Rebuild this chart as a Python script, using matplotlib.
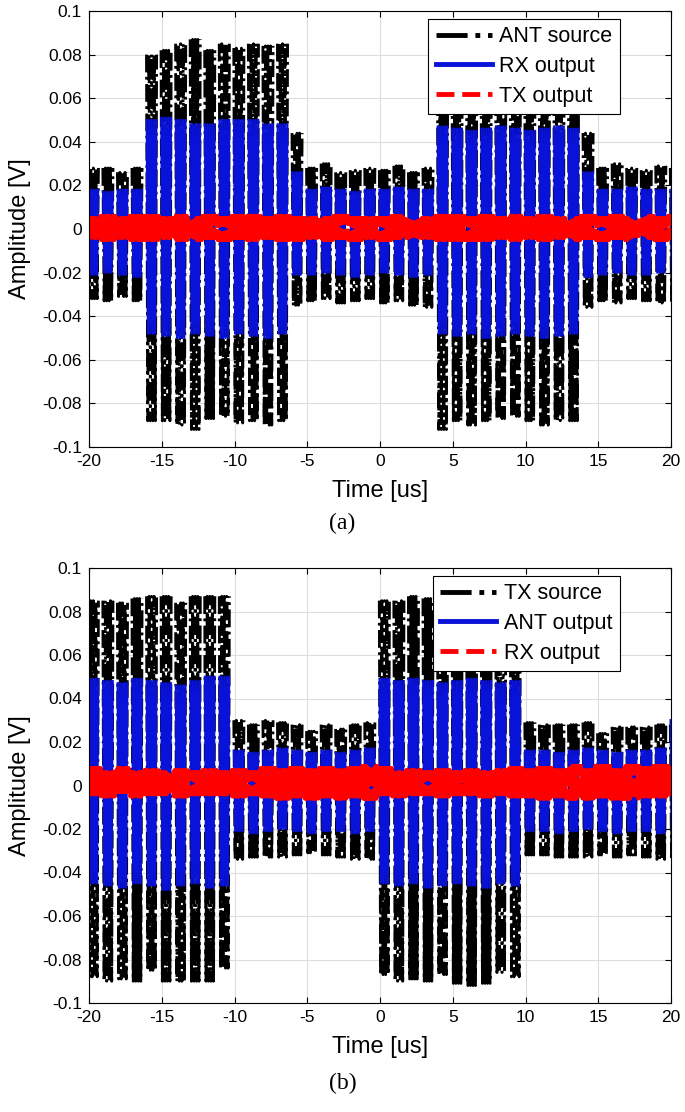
import numpy as np
import matplotlib
matplotlib.use("Agg")
import matplotlib.pyplot as plt
from matplotlib.ticker import FuncFormatter

plt.rcParams['font.family'] = ['Liberation Sans', 'DejaVu Sans']
plt.rcParams['axes.unicode_minus'] = False

# burst centres [us], one value per envelope peak of the carrier
bar_t = [-19.7, -18.7, -17.7, -16.7, -15.7, -14.7, -13.7, -12.7, -11.7, -10.7,
         -9.7, -8.7, -7.7, -6.7, -5.7, -4.7, -3.7, -2.7, -1.7, -0.7,
         0.3, 1.3, 2.3, 3.3, 4.3, 5.3, 6.3, 7.3, 8.3, 9.3,
         10.3, 11.3, 12.3, 13.3, 14.3, 15.3, 16.3, 17.3, 18.3, 19.3, 20.3]

# ---- (a) peak values read per burst ----
a_ant_hi = [0.028, 0.028, 0.026, 0.028,
            0.080, 0.082, 0.085, 0.087, 0.082, 0.085, 0.083, 0.085, 0.084, 0.085,
            0.044,
            0.028, 0.030, 0.026, 0.027, 0.028, 0.027, 0.029, 0.026, 0.028,
            0.060, 0.062, 0.061, 0.062, 0.060, 0.061, 0.062, 0.061, 0.060, 0.061,
            0.044,
            0.028, 0.030, 0.028, 0.027, 0.029, 0.028]
a_ant_lo = [-0.032, -0.033, -0.031, -0.033,
            -0.088, -0.088, -0.090, -0.092, -0.087, -0.086, -0.089, -0.088, -0.090, -0.088,
            -0.035,
            -0.033, -0.032, -0.034, -0.033, -0.032, -0.034, -0.033, -0.035, -0.036,
            -0.092, -0.088, -0.090, -0.088, -0.087, -0.086, -0.088, -0.090, -0.088, -0.088,
            -0.036,
            -0.033, -0.034, -0.032, -0.033, -0.034, -0.033]
a_rx_hi = [0.018, 0.017, 0.018, 0.018,
           0.050, 0.051, 0.050, 0.048, 0.048, 0.050, 0.050, 0.050, 0.048, 0.048,
           0.026,
           0.018, 0.019, 0.018, 0.017, 0.018, 0.018, 0.019, 0.018, 0.018,
           0.047, 0.046, 0.045, 0.046, 0.047, 0.046, 0.045, 0.046, 0.047, 0.046,
           0.026,
           0.018, 0.018, 0.019, 0.018, 0.018, 0.018]
a_rx_lo = [-0.021, -0.020, -0.021, -0.022,
           -0.048, -0.049, -0.050, -0.048, -0.049, -0.050, -0.048, -0.049, -0.050, -0.048,
           -0.021,
           -0.021, -0.020, -0.021, -0.022, -0.021, -0.020, -0.021, -0.022, -0.021,
           -0.048, -0.049, -0.048, -0.050, -0.049, -0.048, -0.049, -0.050, -0.049, -0.048,
           -0.022,
           -0.021, -0.020, -0.021, -0.021, -0.020, -0.021]
a_tx_hi = [0.005, 0.006, 0.005, 0.006, 0.006, 0.005, 0.006, 0.005, 0.006, 0.005,
           0.006, 0.006, 0.005, 0.006, 0.005, 0.005, 0.005, 0.006, 0.005, 0.005,
           0.005, 0.006, 0.005, 0.005, 0.006, 0.006, 0.005, 0.006, 0.005, 0.006,
           0.005, 0.006, 0.005, 0.005, 0.006, 0.005, 0.006, 0.005, 0.006, 0.005, 0.006]
a_tx_lo = [-0.004, -0.005, -0.004, -0.005, -0.005, -0.004, -0.005, -0.005, -0.004, -0.005,
           -0.004, -0.005, -0.004, -0.005, -0.005, -0.004, -0.005, -0.004, -0.005, -0.004,
           -0.005, -0.004, -0.005, -0.004, -0.005, -0.005, -0.005, -0.005, -0.004, -0.005,
           -0.004, -0.005, -0.004, -0.005, -0.004, -0.005, -0.004, -0.005, -0.004, -0.005, -0.004]

# ---- (b) peak values read per burst ----
b_ant_hi = [0.085, 0.085, 0.084, 0.086, 0.087, 0.087, 0.084, 0.087, 0.087, 0.087,
            0.030, 0.028, 0.030, 0.029, 0.028, 0.025, 0.028, 0.026, 0.028, 0.029,
            0.085, 0.085, 0.087, 0.086, 0.084, 0.085, 0.084, 0.085, 0.084, 0.085,
            0.029, 0.028, 0.028, 0.028, 0.029, 0.024, 0.027, 0.027, 0.027, 0.028, 0.028]
b_ant_lo = [-0.088, -0.090, -0.089, -0.090, -0.085, -0.090, -0.090, -0.090, -0.090, -0.084,
            -0.034, -0.033, -0.033, -0.033, -0.032, -0.031, -0.032, -0.033, -0.034, -0.034,
            -0.087, -0.090, -0.089, -0.090, -0.087, -0.091, -0.092, -0.091, -0.086, -0.088,
            -0.032, -0.032, -0.033, -0.033, -0.033, -0.032, -0.033, -0.032, -0.033, -0.034, -0.033]
b_ant_out_hi = [0.049, 0.048, 0.047, 0.049, 0.048, 0.047, 0.046, 0.048, 0.050, 0.050,
                0.016, 0.015, 0.016, 0.017, 0.016, 0.015, 0.016, 0.015, 0.016, 0.017,
                0.049, 0.048, 0.049, 0.048, 0.047, 0.048, 0.049, 0.048, 0.047, 0.048,
                0.016, 0.016, 0.015, 0.016, 0.017, 0.016, 0.015, 0.016, 0.016, 0.017, 0.030]
b_ant_out_lo = [-0.045, -0.046, -0.047, -0.045, -0.046, -0.048, -0.046, -0.045, -0.047, -0.046,
                -0.021, -0.022, -0.021, -0.020, -0.021, -0.022, -0.021, -0.021, -0.022, -0.021,
                -0.045, -0.046, -0.045, -0.047, -0.046, -0.045, -0.046, -0.047, -0.045, -0.046,
                -0.021, -0.021, -0.022, -0.021, -0.020, -0.021, -0.022, -0.021, -0.021, -0.022, -0.021]
b_rx_hi = [0.008, 0.006, 0.008, 0.006, 0.007, 0.006, 0.007, 0.006, 0.007, 0.006,
           0.007, 0.006, 0.008, 0.007, 0.008, 0.007, 0.008, 0.007, 0.008, 0.009,
           0.008, 0.006, 0.007, 0.006, 0.007, 0.006, 0.007, 0.006, 0.007, 0.008,
           0.007, 0.008, 0.007, 0.009, 0.007, 0.009, 0.007, 0.009, 0.008, 0.009, 0.008]
b_rx_lo = [-0.004, -0.005, -0.003, -0.005, -0.004, -0.004, -0.005, -0.004, -0.004, -0.004,
           -0.005, -0.004, -0.005, -0.006, -0.005, -0.006, -0.005, -0.006, -0.005, -0.006,
           -0.004, -0.005, -0.004, -0.004, -0.005, -0.004, -0.004, -0.005, -0.004, -0.005,
           -0.005, -0.006, -0.005, -0.006, -0.006, -0.005, -0.006, -0.006, -0.005, -0.005, -0.004]

x_ticks = [-20, -15, -10, -5, 0, 5, 10, 15, 20]
y_ticks = [-0.1, -0.08, -0.06, -0.04, -0.02, 0, 0.02, 0.04, 0.06, 0.08, 0.1]


def carrier(t, hi, lo, half=0.36, n=9, gap=True):
    # dense carrier drawn inside each envelope peak: alternates between the read peaks
    off = np.linspace(-half, half, n)
    xs, ys = [], []
    for c, h, l in zip(t, hi, lo):
        xs.extend(c + off)
        ys.extend([h if i % 2 == 0 else l for i in range(n)])
        if gap:
            xs.append(np.nan)
            ys.append(np.nan)
    return xs, ys


def panel(ax, src_hi, src_lo, out1_hi, out1_lo, out2_hi, out2_lo, names):
    x, y = carrier(bar_t, src_hi, src_lo, half=0.35)
    ax.plot(x, y, color='black', lw=2.0, ls='-.', label=names[0])
    x, y = carrier(bar_t, out1_hi, out1_lo, half=0.33)
    ax.plot(x, y, color='#0812d8', lw=1.6, ls='-', label=names[1])
    x, y = carrier(bar_t, out2_hi, out2_lo, half=0.5, n=25, gap=False)
    ax.plot(x, y, color='#ff0000', lw=3.0, ls='--', label=names[2])

    ax.set_xlim(-20, 20)
    ax.set_ylim(-0.1, 0.1)
    ax.set_xticks(x_ticks)
    ax.set_yticks(y_ticks)
    ax.yaxis.set_major_formatter(FuncFormatter(lambda v, p: f'{round(v, 2):g}'))
    ax.tick_params(direction='in', top=True, right=True, length=4, width=0.8,
                   labelsize=12.5, pad=5)
    ax.grid(True, color='#dcdcdc', lw=0.8)
    ax.set_axisbelow(True)
    for s in ax.spines.values():
        s.set_linewidth(0.8)
    ax.set_xlabel('Time [us]', fontsize=17)
    ax.set_ylabel('Amplitude [V]', fontsize=17)
    ax.xaxis.set_label_coords(0.5, -0.075)
    ax.yaxis.set_label_coords(-0.10, 0.5)

    leg = ax.legend(loc='upper right', bbox_to_anchor=(0.912, 0.982), fontsize=15.5,
                    fancybox=False, framealpha=1, edgecolor='black',
                    handlelength=2.6, borderpad=0.35, labelspacing=0.4,
                    handletextpad=0.35, borderaxespad=0)
    leg.get_frame().set_linewidth(0.8)
    for h in leg.get_lines():
        h.set_linewidth(3.5)


fig = plt.figure(figsize=(6.85, 11.12), dpi=100)
ax_a = fig.add_axes([89 / 685, 1 - 447 / 1112, 582 / 685, 436 / 1112])
ax_b = fig.add_axes([89 / 685, 1 - 1003 / 1112, 582 / 685, 435 / 1112])

panel(ax_a, a_ant_hi, a_ant_lo, a_rx_hi, a_rx_lo, a_tx_hi, a_tx_lo,
      ['ANT source', 'RX output', 'TX output'])
panel(ax_b, b_ant_hi, b_ant_lo, b_ant_out_hi, b_ant_out_lo, b_rx_hi, b_rx_lo,
      ['TX source', 'ANT output', 'RX output'])

fig.text(0.5, 1 - 523 / 1112, '(a)', ha='center', va='center',
         fontsize=17, family='Liberation Serif')
fig.text(0.5, 1 - 1083 / 1112, '(b)', ha='center', va='center',
         fontsize=17, family='Liberation Serif')

fig.savefig('out.png', dpi=100)
